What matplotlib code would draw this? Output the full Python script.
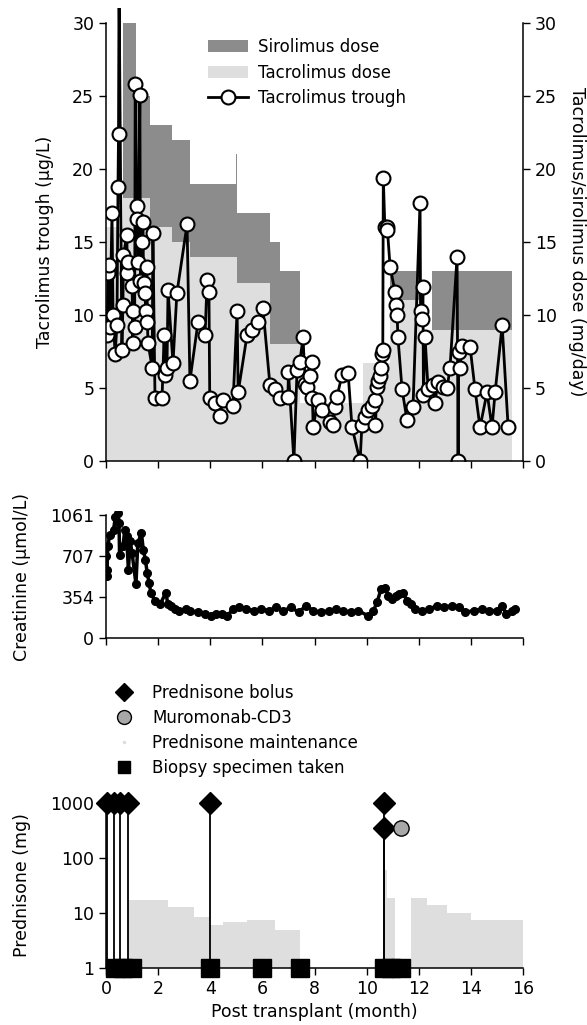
import numpy as np
import matplotlib.pyplot as plt
from matplotlib.lines import Line2D
from matplotlib.patches import Patch

plt.rcParams['font.family'] = ['DejaVu Sans']
plt.rcParams['font.size'] = 12

# ---- data ----
# tacrolimus / sirolimus dose steps (mg/day), step starts at dose_month
dose_month = [0, 0.65, 1.15, 1.69, 2.53, 3.22, 4.97, 5.03, 6.3, 6.68, 7.45, 9.86, 10.9, 12.05, 12.5, 15.58]
tac_dose = [16, 18, 18, 16, 15, 14, 14, 12.2, 8, 8, 4, 6.7, 11, 9, 9, 9]
sir_dose = [0, 12, 7, 7, 7, 5, 7, 4.8, 7, 5, 0, 0, 2, 0, 4, 4]

trough_month = [0.0, 0.04, 0.08, 0.1, 0.15, 0.23, 0.27, 0.35, 0.42, 0.46, 0.48, 0.5,
                0.61, 0.65, 0.67, 0.8, 0.82, 0.85, 1.0, 1.03, 1.05, 1.1, 1.12, 1.18,
                1.2, 1.23, 1.3, 1.32, 1.38, 1.42, 1.44, 1.5, 1.52, 1.57, 1.59, 1.61,
                1.77, 1.8, 1.88, 2.15, 2.23, 2.26, 2.34, 2.38, 2.57, 2.72, 3.11, 3.22,
                3.53, 3.8, 3.88, 3.95, 3.98, 4.18, 4.37, 4.49, 4.87, 5.03, 5.07, 5.41,
                5.6, 5.83, 6.02, 6.29, 6.49, 6.68, 6.98, 7.0, 7.21, 7.33, 7.44, 7.56,
                7.64, 7.71, 7.83, 7.9, 7.92, 7.95, 8.13, 8.29, 8.6, 8.71, 8.79, 8.86,
                9.06, 9.29, 9.44, 9.75, 9.82, 9.94, 10.05, 10.21, 10.32, 10.34, 10.4,
                10.44, 10.5, 10.57, 10.6, 10.62, 10.64, 10.7, 10.78, 10.8, 10.9, 11.09,
                11.11, 11.17, 11.2, 11.36, 11.55, 11.78, 12.05, 12.07, 12.13, 12.16,
                12.18, 12.24, 12.36, 12.55, 12.62, 12.74, 12.93, 13.09, 13.2, 13.47,
                13.51, 13.53, 13.58, 13.66, 13.97, 14.16, 14.35, 14.62, 14.81, 14.93,
                15.2, 15.43]
trough_val = [9.0, 8.6, 12.9, 13.4, 9.2, 17.0, 10.0, 7.3, 9.3, 18.8, 22.4, 33,
              7.6, 10.7, 14.1, 15.5, 12.9, 13.6, 12.0, 8.1, 10.3, 9.2, 25.8, 17.5,
              16.6, 13.6, 25.1, 12.3, 15.0, 16.4, 12.2, 11.5, 10.3, 13.3, 9.5, 8.1,
              6.4, 15.6, 4.3, 4.3, 8.6, 5.9, 6.4, 11.7, 6.7, 11.5, 16.2, 5.5,
              9.5, 8.6, 12.4, 11.6, 4.3, 4.0, 3.1, 4.2, 3.8, 10.3, 4.7, 8.6,
              9.0, 9.5, 10.5, 5.2, 4.9, 4.3, 4.4, 6.1, 0.0, 6.2, 6.8, 8.5,
              5.3, 5.1, 5.8, 6.8, 4.3, 2.3, 4.2, 3.5, 2.7, 2.5, 3.7, 4.4,
              5.9, 6.0, 2.3, 0.0, 2.5, 3.0, 3.5, 3.8, 4.2, 2.5, 5.1,
              5.5, 5.8, 6.4, 7.3, 7.6, 19.4, 16.0, 16.0, 15.8, 13.3, 11.6,
              10.7, 10.0, 8.5, 4.9, 2.8, 3.7, 17.7, 10.3, 9.7, 11.9,
              4.5, 8.5, 4.9, 5.2, 4.0, 5.4, 5.1, 5.0, 6.4, 14.0,
              0.0, 7.5, 6.4, 7.9, 7.8, 4.9, 2.3, 4.7, 2.3, 4.7,
              9.3, 2.3]

creat_month = [0.0, 0.02, 0.03, 0.07, 0.14, 0.29, 0.36, 0.47, 0.5, 0.52, 0.65, 0.72,
               0.79, 0.86, 0.93, 1.0, 1.15, 1.22, 1.36, 1.43, 1.51, 1.58, 1.65, 1.72,
               1.87, 2.08, 2.3, 2.37, 2.51, 2.65, 2.8, 3.08, 3.23, 3.52, 3.8, 4.02,
               4.23, 4.45, 4.66, 4.88, 5.09, 5.38, 5.67, 5.95, 6.24, 6.53, 6.81, 7.1,
               7.39, 7.68, 7.96, 8.25, 8.54, 8.82, 9.11, 9.4, 9.68, 10.04, 10.26, 10.4,
               10.55, 10.69, 10.83, 10.98, 11.12, 11.26, 11.41, 11.55, 11.69, 11.84,
               12.12, 12.41, 12.7, 12.98, 13.27, 13.56, 13.77, 14.13, 14.42, 14.71,
               14.99, 15.21, 15.35, 15.57, 15.71]
creat_val = [705, 590, 535, 790, 890, 933, 1047, 1075, 990, 720, 790, 933,
             876, 590, 833, 734, 464, 820, 905, 762, 677, 563, 478, 392,
             321, 293, 392, 293, 279, 250, 236, 250, 236, 222, 208, 193,
             208, 208, 193, 250, 265, 250, 236, 250, 236, 265, 236, 265,
             222, 279, 236, 222, 236, 250, 236, 222, 236, 193, 236, 307,
             421, 435, 364, 336, 364, 378, 392, 321, 293, 250,
             236, 250, 279, 265, 279, 265, 222, 236, 250, 236,
             236, 279, 208, 236, 250]

maint_month = [0.86, 2.37, 3.37, 4.0, 4.5, 5.4, 6.5, 7.46, 10.72, 10.8, 11.1,
               11.7, 12.3, 13.1, 14.0, 16.0]
maint_dose = [17, 13, 8.4, 6, 6.9, 7.5, 4.9, 1, 60, 19, 1, 18.7, 14, 10, 7.5, 7.5]

bolus_month = [0.05, 0.3, 0.55, 0.85, 4.0, 10.65, 10.65]
bolus_dose = [1000, 1000, 1000, 1000, 1000, 1000, 350]
okt3_month = [11.3]
okt3_dose = [350]
biopsy_month = [0.35, 0.65, 1.0, 4.0, 6.0, 7.45, 10.65, 10.95, 11.3]

xticks = list(range(0, 17, 2))

W, H = 587, 1025
fig = plt.figure(figsize=(W / 100, H / 100), dpi=100)


def px_axes(x0, x1, ytop, ybot):
    return fig.add_axes([x0 / W, 1 - ybot / H, (x1 - x0) / W, (ybot - ytop) / H])


light = '#dedede'
dark = '#8c8c8c'

def style(ax):
    ax.tick_params(direction='out', length=5, width=1, labelsize=12.5)
    for s in ax.spines.values():
        s.set_linewidth(1.1)


# ---- top panel ----
ax1 = px_axes(106, 523, 8.4, 461)
tac = np.array(tac_dose)
tot = tac + np.array(sir_dose)
ax1.fill_between(dose_month, 0, tac, step='post', color=light, lw=0)
ax1.fill_between(dose_month, tac, tot, step='post', color=dark, lw=0)
ax1.plot(trough_month, trough_val, '-o', color='black', lw=2, ms=10,
         mfc='white', mec='black', mew=1.5)
ax1.set_xlim(0, 16)
ax1.set_ylim(0, 31)
ax1.set_xticks(xticks)
ax1.set_xticklabels([])
ax1.set_yticks(range(0, 31, 5))
ax1.spines['top'].set_visible(False)
ax1.spines['right'].set_visible(False)
ax1.spines['left'].set_bounds(0, 30)
ax1.set_ylabel('Tacrolimus trough (\u00b5g/L)', fontsize=12.5)
ax1.yaxis.set_label_coords(-0.125, 0.5 * 30 / 31)
style(ax1)

ax1r = ax1.twinx()
ax1r.set_ylim(0, 31)
ax1r.set_yticks(range(0, 31, 5))
for s in ['top', 'left', 'bottom']:
    ax1r.spines[s].set_visible(False)
ax1r.spines['right'].set_bounds(0, 30)
ax1r.set_ylabel('Tacrolimus/sirolimus dose (mg/day)', rotation=270,
                fontsize=12.5, labelpad=18)
ax1r.yaxis.set_label_coords(1.15, 0.5 * 30 / 31)
style(ax1r)

h1 = [Patch(color=dark, lw=0), Patch(color=light, lw=0),
      Line2D([], [], color='black', lw=2, marker='o', ms=10, mfc='white', mew=1.5)]
ax1.legend(h1, ['Sirolimus dose', 'Tacrolimus dose', 'Tacrolimus trough'],
           loc='upper left', bbox_to_anchor=(208 / W, 1 - 38 / H),
           bbox_transform=fig.transFigure, frameon=False, fontsize=12,
           handlelength=2.4, handleheight=0.7, handletextpad=0.6,
           labelspacing=0.45, borderpad=0, borderaxespad=0)

# ---- creatinine ----
ax2 = px_axes(106, 523, 510.5, 638)
ax2.plot(creat_month, creat_val, '-o', color='black', lw=2.5, ms=5.5)
ax2.set_xlim(0, 16)
ax2.set_ylim(0, 1100)
ax2.set_xticks(xticks)
ax2.set_xticklabels([])
ax2.set_yticks([0, 354, 707, 1061])
ax2.spines['top'].set_visible(False)
ax2.spines['right'].set_visible(False)
ax2.spines['left'].set_bounds(0, 1061)
ax2.set_ylabel('Creatinine (\u00b5mol/L)', fontsize=12.5)
ax2.yaxis.set_label_coords(-0.18, 0.5 * 1061 / 1100)
style(ax2)

# ---- prednisone ----
ax3 = px_axes(106, 523, 803, 968)
ax3.set_yscale('log')
ax3.fill_between(maint_month, 1, maint_dose, step='post', color=light, lw=0)
ax3.vlines(bolus_month, 1, bolus_dose, color='black', lw=1.3)
ax3.plot(bolus_month, bolus_dose, 'D', color='black', ms=11, clip_on=False, zorder=5)
ax3.plot(okt3_month, okt3_dose, 'o', mfc='#a8a8a8', mec='black', mew=1, ms=11,
         clip_on=False, zorder=5)
ax3.plot(biopsy_month, [1] * len(biopsy_month), 's', color='black', ms=12.5,
         clip_on=False, zorder=6)
ax3.set_xlim(0, 16)
ax3.set_ylim(1, 1000)
ax3.set_xticks(xticks)
ax3.set_yticks([1, 10, 100, 1000])
ax3.set_yticklabels(['1', '10', '100', '1000'])
ax3.minorticks_off()
ax3.spines['top'].set_visible(False)
ax3.spines['right'].set_visible(False)
ax3.set_ylabel('Prednisone (mg)', fontsize=12.5)
ax3.yaxis.set_label_coords(-0.18, 0.5)
ax3.set_xlabel('Post transplant (month)', fontsize=12.5, labelpad=4)
style(ax3)

h3 = [Line2D([], [], ls='', marker='D', color='black', ms=9),
      Line2D([], [], ls='', marker='o', mfc='#a8a8a8', mec='black', ms=10),
      Line2D([], [], ls='', marker='.', color=light, ms=3),
      Line2D([], [], ls='', marker='s', color='black', ms=8.5)]
ax3.legend(h3, ['Prednisone bolus', 'Muromonab-CD3', 'Prednisone maintenance',
                'Biopsy specimen taken'],
           loc='upper left', bbox_to_anchor=(114 / W, 1 - 684 / H),
           bbox_transform=fig.transFigure, frameon=False, fontsize=12,
           handlelength=1.2, handletextpad=1.1, labelspacing=0.42,
           borderpad=0, borderaxespad=0)

fig.savefig('out.png', dpi=100)
